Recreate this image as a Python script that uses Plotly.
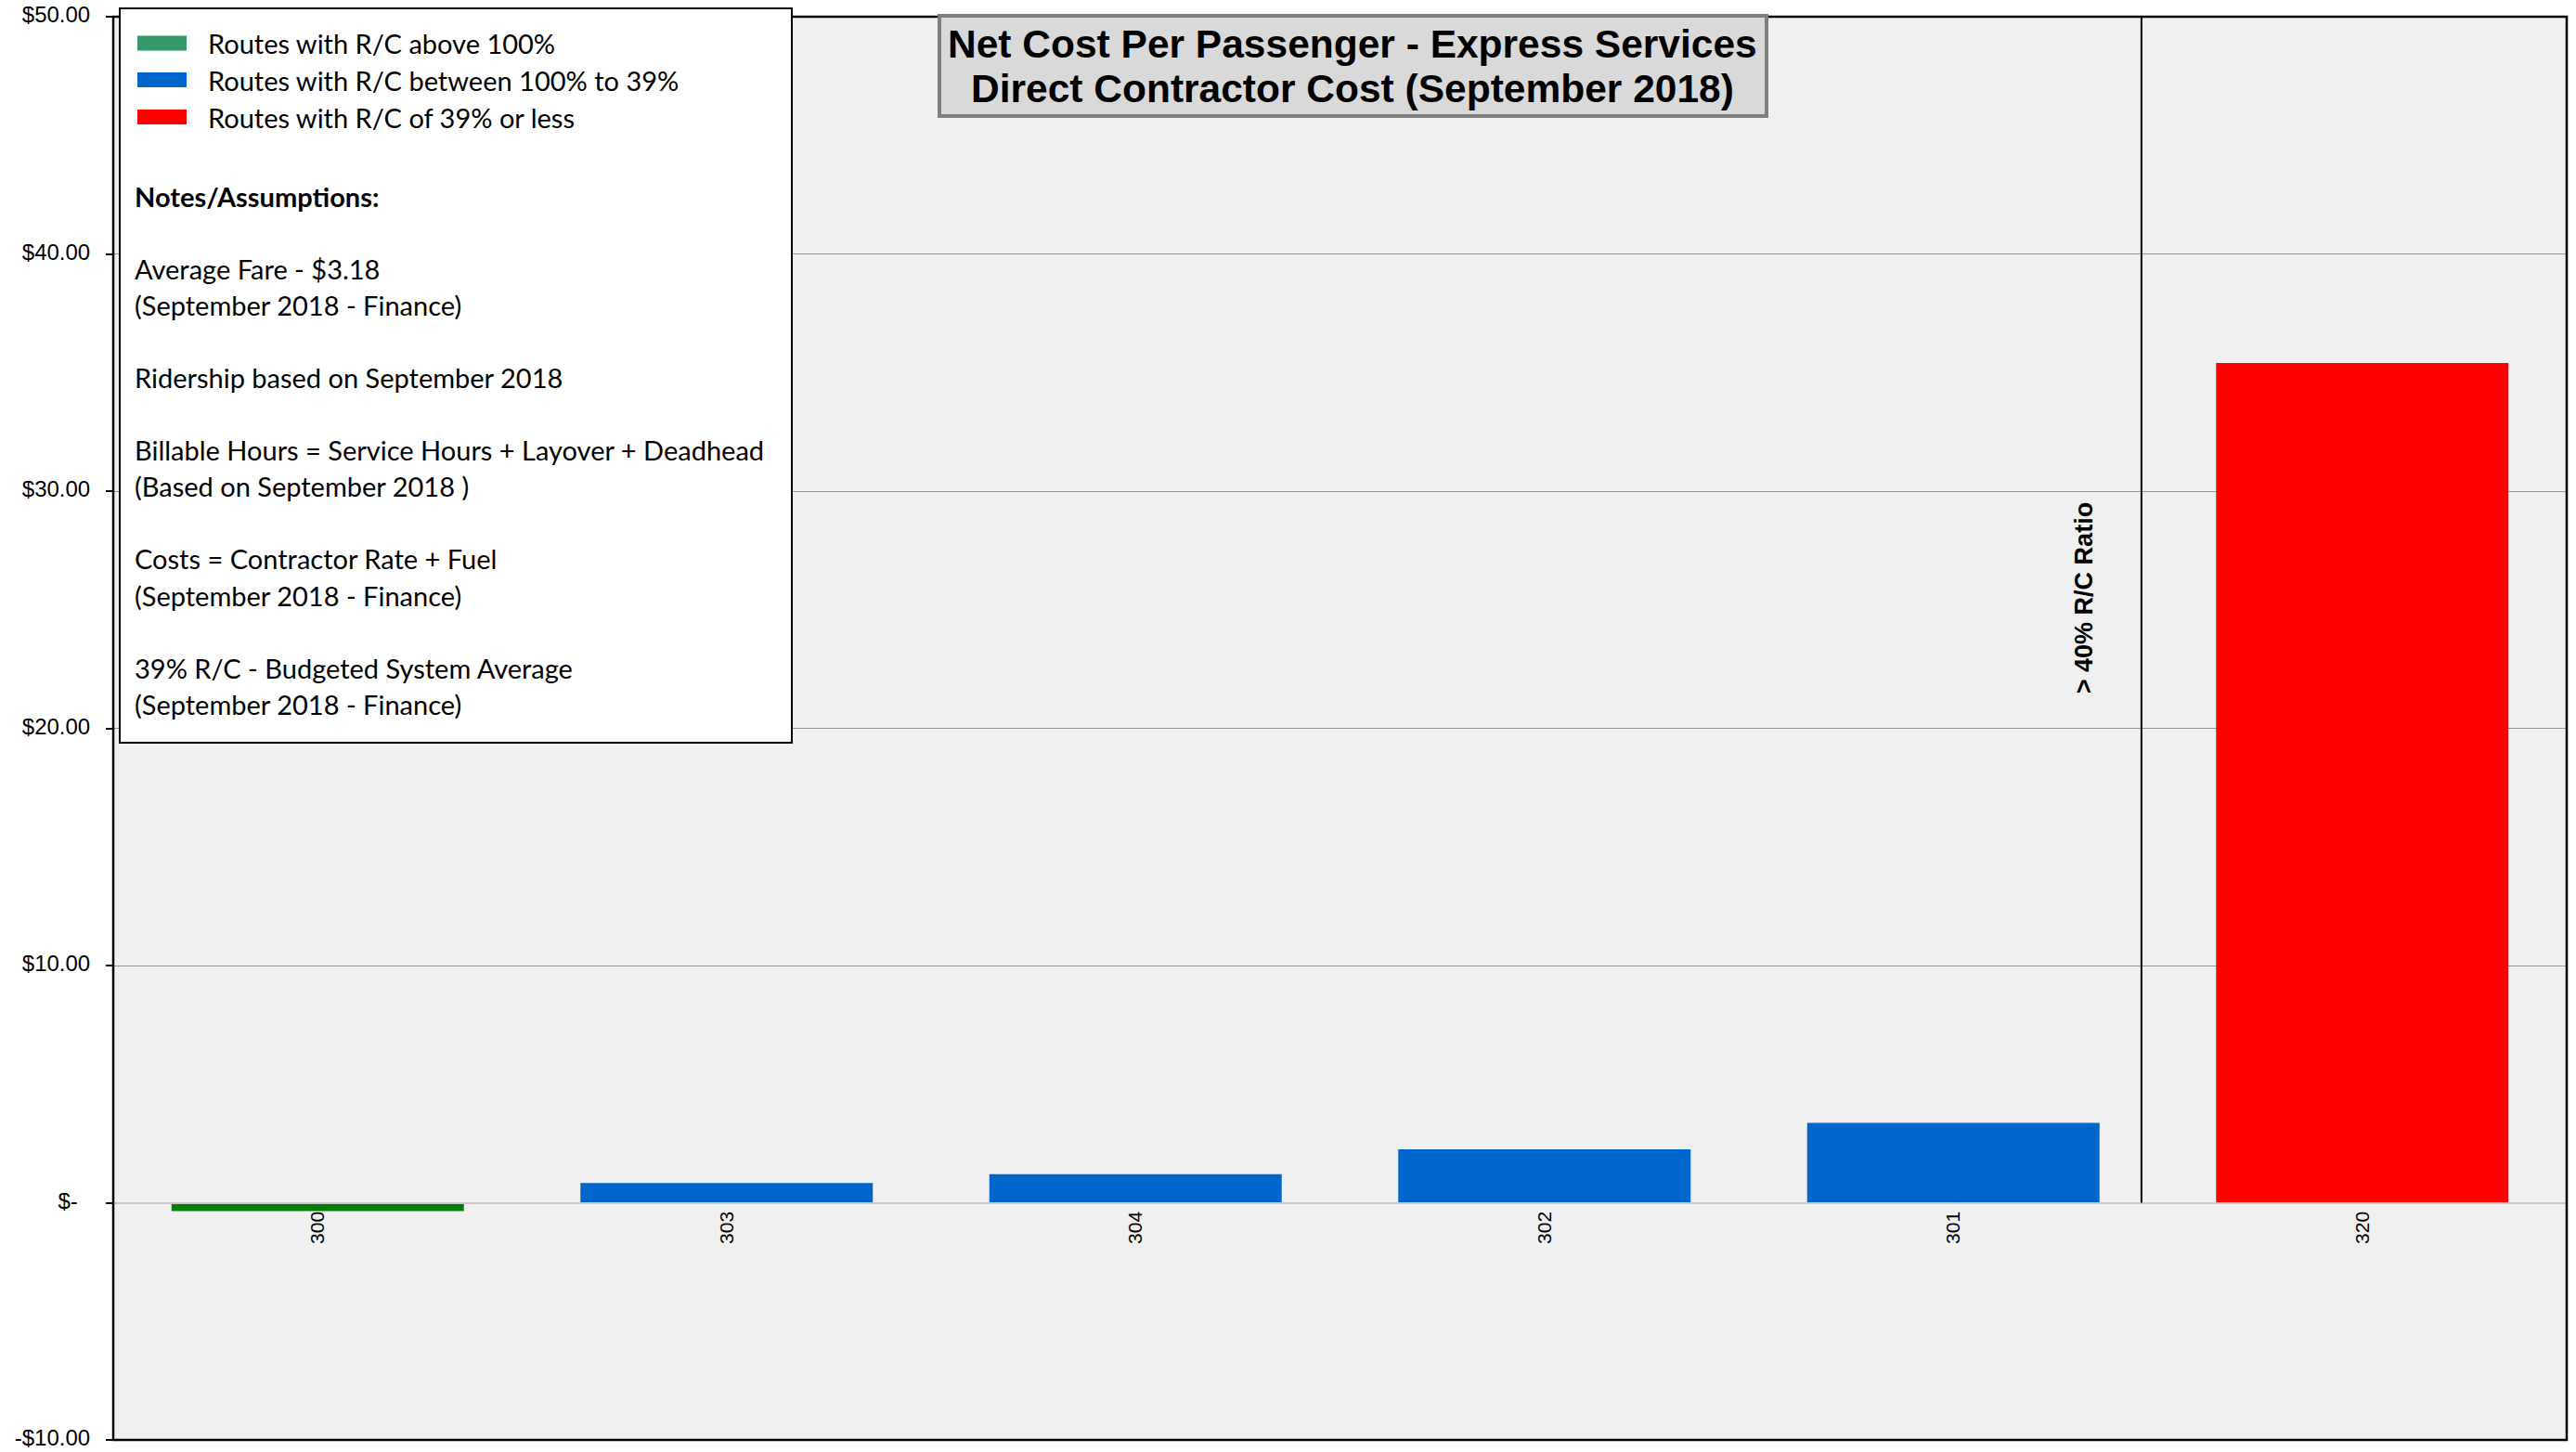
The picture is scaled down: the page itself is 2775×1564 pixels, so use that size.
import plotly.graph_objects as go

# ---------------- data ----------------
routes = ["300", "303", "304", "302", "301", "320"]
net_cost = [-0.35, 0.83, 1.20, 2.25, 3.37, 35.40]
rc_group = ["above", "between", "between", "between", "between", "below"]

y_tick_vals = [50, 40, 30, 20, 10, 0, -10]
y_tick_text = ["$50.00", "$40.00", "$30.00", "$20.00", "$10.00", "$-\u00a0\u00a0", "-$10.00"]

legend_groups = ["above", "between", "below"]
legend_labels = [
    "Routes with R/C above 100%",
    "Routes with R/C between 100% to 39%",
    "Routes with R/C of 39% or less",
]
notes_title = "Notes/Assumptions:"
notes_lines = [
    "Average Fare - $3.18",
    "(September 2018 - Finance)",
    "Ridership based on September 2018",
    "Billable Hours = Service Hours + Layover + Deadhead",
    "(Based on September 2018 )",
    "Costs = Contractor Rate + Fuel",
    "(September 2018 - Finance)",
    "39% R/C - Budgeted System Average",
    "(September 2018 - Finance)",
]
title_lines = ["Net Cost Per Passenger - Express Services",
               "Direct Contractor Cost (September 2018)"]
threshold_label = "> 40% R/C Ratio"
threshold_pos = 4.46   # divider between route 301 and 320 (category units)
threshold_label_pos = (4.32, 25.5)

# ---------------- style ----------------
bar_colors = {"above": "#008000", "between": "#0066CC", "below": "#FF0000"}
swatch_colors = {"above": "#339966", "between": "#0066CC", "below": "#FF0000"}

W, H = 2775, 1564
L, R, T, B = 122, 2765, 18, 1551
PW, PH = R - L, B - T


def px(x):
    return (x - L) / PW


def py(y):
    return (B - y) / PH


ARIAL = "Liberation Sans, Arial, sans-serif"
CALIBRI = "Lato, Carlito, Calibri, sans-serif"
NOTE_SIZE = 29

fig = go.Figure()
fig.add_trace(go.Bar(
    x=routes, y=net_cost,
    marker=dict(color=[bar_colors[g] for g in rc_group], line=dict(width=0)),
    showlegend=False,
))

shapes = []
annotations = []

# plot frame
shapes.append(dict(type="rect", xref="paper", yref="paper", x0=0, x1=1, y0=0, y1=1,
                   line=dict(color="black", width=2.5), fillcolor="rgba(0,0,0,0)", layer="above"))
# threshold divider
shapes.append(dict(type="line", xref="x", yref="y", x0=threshold_pos, x1=threshold_pos,
                   y0=0, y1=50, line=dict(color="black", width=2), layer="above"))

# legend / notes box
shapes.append(dict(type="rect", xref="paper", yref="paper",
                   x0=px(129), x1=px(853), y0=py(800), y1=py(9),
                   line=dict(color="black", width=2), fillcolor="white", layer="above"))
row_y = [46.5, 86, 126]
for g, lab, yy in zip(legend_groups, legend_labels, row_y):
    shapes.append(dict(type="rect", xref="paper", yref="paper",
                       x0=px(148), x1=px(201), y0=py(yy + 8), y1=py(yy - 8),
                       line=dict(width=0), fillcolor=swatch_colors[g], layer="above"))
    annotations.append(dict(xref="paper", yref="paper", x=px(222), y=py(yy),
                            xanchor="left", yanchor="middle", showarrow=False, text=lab,
                            font=dict(family=CALIBRI, size=NOTE_SIZE, color="black")))
annotations.append(dict(xref="paper", yref="paper", x=px(143), y=py(211),
                        xanchor="left", yanchor="middle", showarrow=False,
                        text="<b>" + notes_title + "</b>",
                        font=dict(family=CALIBRI, size=NOTE_SIZE, color="black")))
note_y = [289, 328, 406, 484, 523, 601, 641, 719, 758]
for t, yy in zip(notes_lines, note_y):
    annotations.append(dict(xref="paper", yref="paper", x=px(143), y=py(yy),
                            xanchor="left", yanchor="middle", showarrow=False, text=t,
                            font=dict(family=CALIBRI, size=NOTE_SIZE, color="black")))

# title box
shapes.append(dict(type="rect", xref="paper", yref="paper",
                   x0=px(1012), x1=px(1903), y0=py(125), y1=py(17),
                   line=dict(color="#7F7F7F", width=4), fillcolor="#D9D9D9", layer="above"))
for t, yy in zip(title_lines, [47, 95]):
    annotations.append(dict(xref="paper", yref="paper", x=px(1457), y=py(yy),
                            xanchor="center", yanchor="middle", showarrow=False,
                            text="<b>" + t + "</b>",
                            font=dict(family=ARIAL, size=42.5, color="black")))

# threshold label
annotations.append(dict(xref="x", yref="y", x=threshold_label_pos[0], y=threshold_label_pos[1],
                        text="<b>" + threshold_label + "</b>", textangle=-90, showarrow=False,
                        xanchor="center", yanchor="middle",
                        font=dict(family=ARIAL, size=27, color="black")))

fig.update_layout(
    width=W, height=H, autosize=False,
    margin=dict(l=L, r=W - R, t=T, b=H - B, pad=0, autoexpand=False),
    paper_bgcolor="white",
    plot_bgcolor="#F0F0F0",
    bargap=0.285,
    shapes=shapes,
    annotations=annotations,
    showlegend=False,
    xaxis=dict(
        type="category", anchor="free", position=1 / 6, automargin=False,
        showline=True, linecolor="#C8C8C8", linewidth=2,
        ticks="", ticklabelstandoff=0,
        tickangle=-90, tickfont=dict(family=ARIAL, size=21, color="black"),
        showgrid=False, zeroline=False,
    ),
    # boundary tick marks between routes (no labels)
    xaxis2=dict(
        overlaying="x", anchor="free", position=1 / 6, automargin=False,
        range=[-0.5, len(routes) - 0.5],
        tickvals=[i - 0.5 for i in range(len(routes) + 1)],
        showticklabels=False, ticks="outside", ticklen=6, tickcolor="#C8C8C8", tickwidth=1,
        showline=False, showgrid=False, zeroline=False,
    ),
    yaxis=dict(
        range=[-10, 50], tickvals=y_tick_vals, ticktext=y_tick_text, automargin=False,
        ticks="outside", ticklen=7, tickcolor="black", tickwidth=2,
        ticklabelstandoff=12, ticklabelshift=-2, ticklabeloverflow="allow",
        tickfont=dict(family=ARIAL, size=24, color="black"),
        showgrid=True, gridcolor="#969696", gridwidth=1,
        zeroline=False, showline=False,
    ),
)

fig.write_html("out.html", config={"displayModeBar": False},
               post_script="document.body.style.margin='0';")
